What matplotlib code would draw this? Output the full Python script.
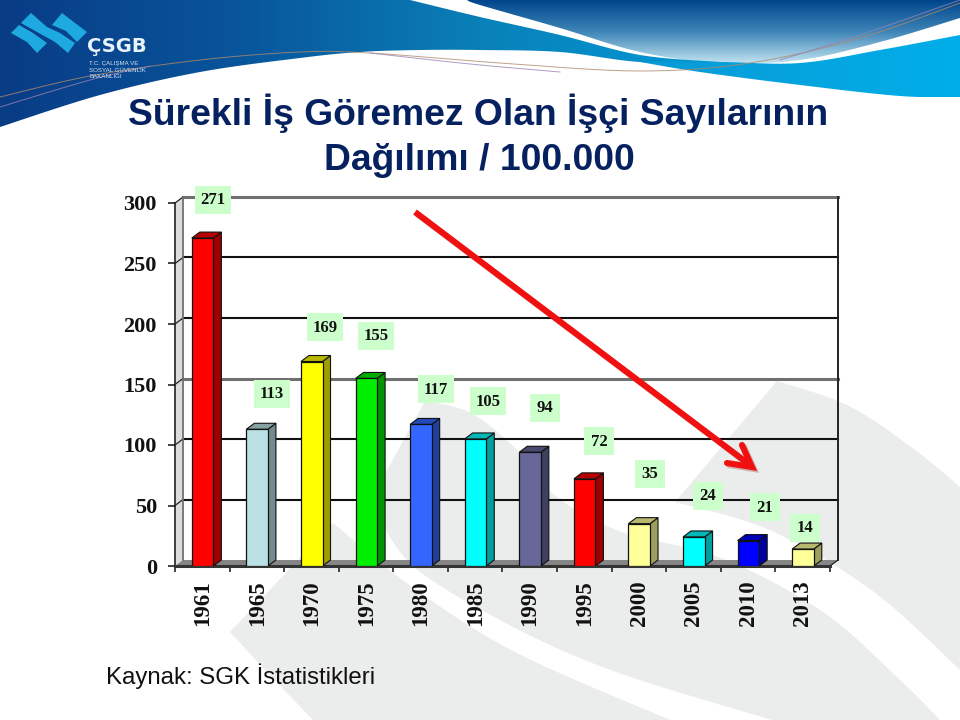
import numpy as np
import matplotlib
matplotlib.use('Agg')
import matplotlib.pyplot as plt
from matplotlib.patches import Polygon, Rectangle

# ── data ───────────────────────────────────────────────────────────────────
YEARS  = ['1961', '1965', '1970', '1975', '1980', '1985',
          '1990', '1995', '2000', '2005', '2010', '2013']
VALUES = [271, 113, 169, 155, 117, 105, 94, 72, 35, 24, 21, 14]
YTICKS = [0, 50, 100, 150, 200, 250, 300]

FRONT = ['#ff0000', '#b9e0e4', '#ffff00', '#00ee00', '#3366ff', '#00ffff',
         '#666699', '#ff0000', '#ffff99', '#00ffff', '#0000ff', '#ffff99']

# label box centres in slide pixels
LABEL_XY = [(213, 200), (272, 394), (325, 327), (376, 336), (436, 389), (488, 401),
            (545, 408), (599, 441), (650, 474), (708, 496), (765, 507), (805, 528)]

TITLE_1 = 'Sürekli İş Göremez Olan İşçi Sayılarının'
TITLE_2 = 'Dağılımı / 100.000'
SOURCE  = 'Kaynak: SGK İstatistikleri'
NAVY    = '#06215f'
WMARK   = '#ebecec'

W, H = 960, 720
X0, X1 = 175, 830      # chart front edge, px
Y0, Y1 = 566, 203      # value 0 and 300, px
DX = 8.0 / ((X1 - X0) / 12)      # 3d depth in data units
DY = 6.0 / ((Y0 - Y1) / 300)
BAR_W = 0.395


def smooth(pts, n=16):
    """Catmull-Rom through the points, for the slide background curves."""
    p = np.array([pts[0]] + list(pts) + [pts[-1]], dtype=float)
    out = []
    for i in range(1, len(p) - 2):
        for t in np.linspace(0, 1, n, endpoint=False):
            out.append(0.5 * (2*p[i] + (p[i+1]-p[i-1])*t
                              + (2*p[i-1]-5*p[i]+4*p[i+1]-p[i+2])*t**2
                              + (3*p[i]-p[i-1]-3*p[i+1]+p[i+2])*t**3))
    out.append(p[-2])
    return np.array(out)


def shade(col, f):
    rgb = np.array(matplotlib.colors.to_rgb(col))
    return tuple(rgb * f)


fig = plt.figure(figsize=(9.6, 7.2), dpi=100, facecolor='white')

# ── slide background ───────────────────────────────────────────────────────
bg = fig.add_axes([0, 0, 1, 1], zorder=0)
bg.set_xlim(0, W)
bg.set_ylim(H, 0)
bg.axis('off')


def fill_grad(upper, lower, colors, vertical=False, start=None):
    """Area between two curves, filled with a gradient image clipped to it."""
    parts = [smooth(upper), smooth(lower)[::-1]]
    if start is not None:
        parts.insert(0, np.array(start, dtype=float))
    poly = np.vstack(parts)
    patch = Polygon(poly, closed=True, fc='none', ec='none')
    bg.add_patch(patch)
    cm = matplotlib.colors.LinearSegmentedColormap.from_list('g', colors)
    g = np.linspace(0, 1, 256)
    g = g[:, None] if vertical else g[None, :]
    im = bg.imshow(g, cmap=cm, extent=[poly[:, 0].min(), poly[:, 0].max(),
                                       poly[:, 1].max(), poly[:, 1].min()],
                   aspect='auto', zorder=1, vmin=0, vmax=1)
    im.set_clip_path(patch)


# grey watermark bands
bg.fill(*np.vstack([
    smooth([(777, 381), (849, 406), (915, 450), (960, 487)]),
    smooth([(675, 502), (772, 531), (874, 592), (960, 670)])[::-1]]).T, color=WMARK, lw=0)
bg.fill(*np.vstack([
    [(368, 505)],
    smooth([(425, 401), (471, 413), (517, 450), (553, 494), (619, 531), (721, 558),
            (823, 612), (900, 680), (940, 720)]),
    smooth([(384, 528), (420, 572), (517, 629), (619, 673), (772, 720)])[::-1]]).T,
    color=WMARK, lw=0)
bg.fill(*np.vstack([
    smooth([(333, 523), (415, 589), (517, 653), (670, 720)]),
    smooth([(230, 632), (270, 675), (313, 720)])[::-1]]).T, color=WMARK, lw=0)

# sky, white streak, bands
fill_grad([(467, 0), (960, 0)],
          [(467, 0), (480, 5), (560, 28), (640, 52), (720, 63), (800, 60), (880, 42), (960, 18)],
          ['#01468c', '#3f86b8', '#c4e6f2'], vertical=True)
fill_grad([(410, 0), (480, 17), (560, 35), (640, 55), (720, 62)],
          [(0, 127), (100, 95), (200, 72), (300, 58), (360, 52), (420, 50), (480, 50), (560, 52),
           (640, 62), (720, 62)],
          ['#093c85', '#08559c', '#0a80b8', '#009ad6'], start=[(0, 0)])
fill_grad([(640, 62), (720, 62), (800, 63), (880, 50), (960, 35)],
          [(640, 62), (700, 72), (800, 85), (900, 96), (960, 97)],
          ['#0a9ad6', '#00aee8'])

# thin coloured swooshes
for col, pts in [('#b08a6a', [(0, 97), (90, 76), (200, 60), (300, 52), (370, 53),
                              (500, 63), (640, 71), (750, 63), (860, 38), (960, 3)]),
                 ('#9a84b4', [(0, 107), (90, 80), (150, 66)]),
                 ('#9a84b4', [(370, 53), (470, 64), (560, 72)]),
                 ('#8f86b8', [(780, 60), (860, 35), (960, 0)])]:
    bg.plot(*smooth(pts).T, color=col, lw=0.7, alpha=0.8, zorder=2)

# logo
for pts in [[(52, 25), (62, 13), (75, 23), (87, 32), (77, 42), (66, 31)],
            [(21, 23), (31, 13), (47, 27), (60, 33), (75, 43), (68, 53), (55, 42), (37, 32)],
            [(11, 33), (19, 25), (33, 33), (47, 43), (37, 53), (27, 42)]]:
    bg.add_patch(Polygon(pts, closed=True, fc='#1ea9e1', ec='none', zorder=3))
bg.text(87, 46, 'ÇSGB', color='#e8f2fa', fontsize=14, fontweight='bold',
        family='DejaVu Sans', va='center', ha='left', zorder=3)
for y, s in [(63, 'T.C. ÇALIŞMA VE'), (70, 'SOSYAL GÜVENLİK'), (77, 'BAKANLIĞI')]:
    bg.text(89, y, s, color='#d6e6f4', fontsize=4.4, family='Liberation Sans',
            va='center', ha='left', zorder=3)

# ── chart ──────────────────────────────────────────────────────────────────
ax = fig.add_axes([X0 / W, 1 - Y0 / H, (X1 - X0) / W, (Y0 - Y1) / H], zorder=2)
ax.patch.set_alpha(0)
ax.set_xlim(0, 12)
ax.set_ylim(0, 300)
for s in ax.spines.values():
    s.set_visible(False)

# side wall and floor
ax.add_patch(Polygon([(0, 0), (DX, DY), (DX, 300 + DY), (0, 300)], closed=True,
                     fc='#dcdcdc', ec='none', clip_on=False, zorder=1))
ax.add_patch(Polygon([(0, 0), (DX, DY), (12 + DX, DY), (12, 0)], closed=True,
                     fc='#858585', ec='none', clip_on=False, zorder=1))

# gridlines on the back wall
for v in YTICKS[1:]:
    heavy = v in (150, 300)
    ax.plot([DX, 12 + DX], [v + DY, v + DY], color='#707070' if heavy else '#111111',
            lw=2.2 if heavy else 1.5, clip_on=False, zorder=1.5)
    ax.plot([0, DX], [v, v + DY], color='#222222', lw=0.9, clip_on=False, zorder=1.5)
ax.plot([DX, DX], [DY, 300 + DY], color='#707070', lw=1.3, clip_on=False, zorder=1.5)
ax.plot([0, 0], [0, 300], color='#222222', lw=1.2, clip_on=False, zorder=1.5)
ax.plot([12 + DX, 12 + DX], [DY, 300 + DY], color='#222222', lw=1.4, clip_on=False, zorder=1.5)
ax.plot([0, 12], [0, 0], color='#333333', lw=2.2, clip_on=False, zorder=1.6)
ax.plot([12, 12 + DX], [0, DY], color='#222222', lw=0.9, clip_on=False, zorder=1.5)

# bars with their 3d faces
centres = np.arange(len(VALUES)) + 0.505
for xc, v, col in zip(centres, VALUES, FRONT):
    xl, xr = xc - BAR_W / 2, xc + BAR_W / 2
    ax.add_patch(Polygon([(xr, 0), (xr + DX, DY), (xr + DX, v + DY), (xr, v)], closed=True,
                         fc=shade(col, 0.62), ec='#111111', lw=0.8, zorder=3))
    ax.add_patch(Polygon([(xl, v), (xl + DX, v + DY), (xr + DX, v + DY), (xr, v)], closed=True,
                         fc=shade(col, 0.72), ec='#111111', lw=0.8, zorder=3))
ax.bar(centres, VALUES, width=BAR_W, color=FRONT, edgecolor='#111111', linewidth=0.9, zorder=4)

ax.set_yticks(YTICKS)
ax.set_xticks(np.arange(13))
ax.set_xticks(centres, minor=True)
ax.set_xticklabels([])
ax.set_xticklabels(YEARS, minor=True, rotation=90, family='Liberation Serif',
                   fontsize=16.5, fontweight='bold', color='#111111')
ax.tick_params(axis='x', which='major', length=4.5, width=1.1, color='#111111')
ax.tick_params(axis='x', which='minor', length=0, pad=10)
ax.tick_params(axis='y', length=5, width=1.1, color='#111111', pad=8)
for lab in ax.get_yticklabels():
    lab.set(family='Liberation Serif', fontsize=16, fontweight='bold', color='#111111')

# ── overlay: value labels, arrow, titles ───────────────────────────────────
top = fig.add_axes([0, 0, 1, 1], zorder=3)
top.set_xlim(0, W)
top.set_ylim(H, 0)
top.axis('off')

for v, (x, y) in zip(VALUES, LABEL_XY):
    bw = 36 if v >= 100 else 30
    top.add_patch(Rectangle((x - bw / 2, y - 14), bw, 28, fc='#ccffcc', ec='none'))
    top.text(x, y + 0.5, str(v), ha='center', va='center', family='Liberation Serif',
             fontsize=12, fontweight='bold', color='#111111')

for off, col, al in [(2, '#a04040', 0.35), (0, '#f01010', 1.0)]:
    top.plot(np.array([415, 750]) + off, np.array([212, 465]) + off, color=col, alpha=al,
             lw=4.4, solid_capstyle='butt')
    top.plot(np.array([742, 752, 727]) + off, np.array([445, 467, 463]) + off, color=col,
             alpha=al, lw=4.4, solid_joinstyle='miter', solid_capstyle='round')

top.text(478.5, 113, TITLE_1, ha='center', va='center', family='Liberation Sans',
         fontsize=26.8, fontweight='bold', color=NAVY)
top.text(479, 160, TITLE_2, ha='center', va='center', family='Liberation Sans',
         fontsize=26.8, fontweight='bold', color=NAVY)
top.text(106, 676, SOURCE, ha='left', va='center', family='Liberation Sans',
         fontsize=17.3, color='#111111')

fig.savefig('out.png', dpi=100)
